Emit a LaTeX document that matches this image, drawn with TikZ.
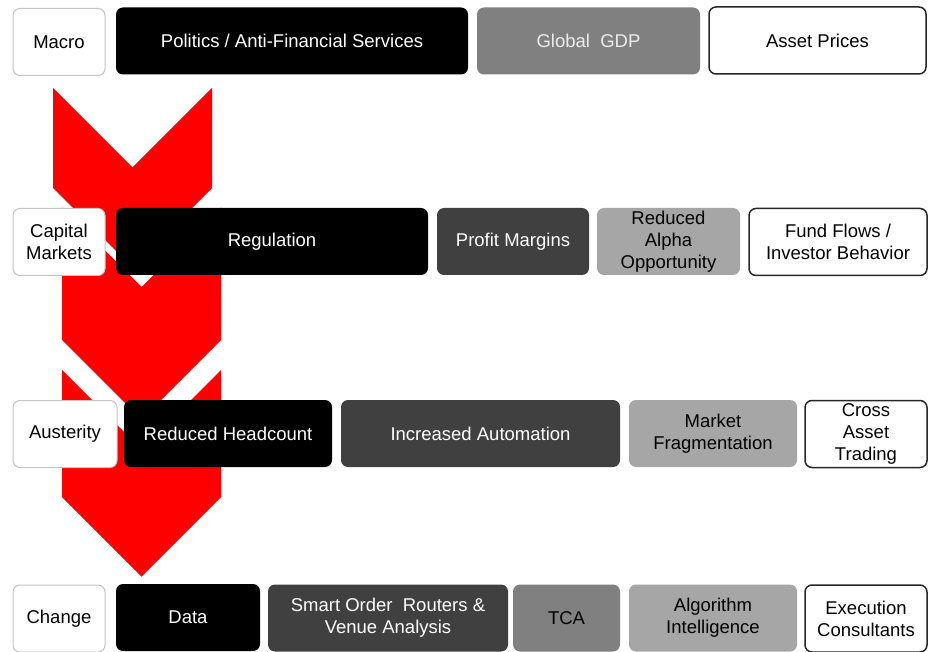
\documentclass[tikz,border=0pt]{standalone}
\usepackage{fontspec}
\setmainfont{Liberation Sans}
\usepackage{xcolor}
\usepackage{tikz}
\usetikzlibrary{positioning,calc}

\definecolor{chevred}{HTML}{FF0000}
\definecolor{darkgrey}{HTML}{404040}
\definecolor{midgrey}{HTML}{808080}
\definecolor{lightgrey}{HTML}{A6A6A6}
\definecolor{rimgrey}{HTML}{C4C4C4}

\begin{document}
\begin{tikzpicture}[x=1pt, y=-1pt,
  every node/.style={font=\fontsize{18.5}{22}\selectfont, align=center, inner sep=0pt},
  tile/.style={rounded corners=7pt, minimum height=67pt, minimum width=#1},
  rowlabel/.style={tile=#1, draw=rimgrey, line width=1pt, fill=white, text=black},
  blacktile/.style={tile=#1, fill=black, text=white},
  darktile/.style={tile=#1, fill=darkgrey, text=white},
  midtile/.style={tile=#1, fill=midgrey, text=black},
  lighttile/.style={tile=#1, fill=lightgrey, text=black},
  opentile/.style={tile=#1, draw=black!85, line width=1.5pt, fill=white, text=black}]
\useasboundingbox (0,0) rectangle (929,652);

% Red chevrons running down the left column
\foreach \x/\top/\bot in {53/88/188, 62/207.5/340, 62/370/497}
  \fill[chevred] (\x,\top) -- ({\x+79.5},{\top+79.5}) -- ({\x+159},\top)
    -- ({\x+159},\bot) -- ({\x+79.5},{\bot+79.5}) -- (\x,\bot) -- cycle;

% Row 1: Macro
\node[rowlabel=92pt] (macro) at (59,42) {Macro};
\node[blacktile=352pt] (politics) at (292,41) {Politics / Anti-Financial Services};
\node[midtile=223pt, text=gray!15] (gdp) at (588.5,41) {Global \ GDP};
\node[opentile=217pt] (prices) at (817.5,40.5) {Asset Prices};

% Row 2: Capital Markets
\node[rowlabel=92pt] (capmkts) at (59,242) {Capital\\Markets};
\node[blacktile=312pt] (regulation) at (272,241.5) {Regulation};
\node[darktile=152pt] (margins) at (513,241.5) {Profit Margins};
\node[lighttile=143pt] (alpha) at (668.5,241.5) {Reduced\\Alpha\\Opportunity};
\node[opentile=178pt] (flows) at (838,242) {Fund Flows /\\Investor Behavior};

% Row 3: Austerity
\node[rowlabel=104pt] (austerity) at (65,434) {Austerity};
\node[blacktile=208pt] (headcount) at (228,433.5) {Reduced Headcount};
\node[darktile=279pt] (automation) at (480.5,433.5) {Increased Automation};
\node[lighttile=168pt] (fragment) at (713,433.5) {Market\\Fragmentation};
\node[opentile=122pt] (crossasset) at (866,434) {Cross\\Asset\\Trading};

% Row 4: Change
\node[rowlabel=92pt] (change) at (59,618.5) {Change};
\node[blacktile=144pt] (data) at (188,617.5) {Data};
\node[darktile=240pt] (sor) at (388,618) {Smart Order \ Routers \&\\Venue Analysis};
\node[midtile=107pt] (tca) at (566.5,618) {TCA};
\node[lighttile=168pt] (algo) at (713,618) {Algorithm\\Intelligence};
\node[opentile=122pt] (consult) at (866,618.5) {Execution\\Consultants};
\end{tikzpicture}
\end{document}
